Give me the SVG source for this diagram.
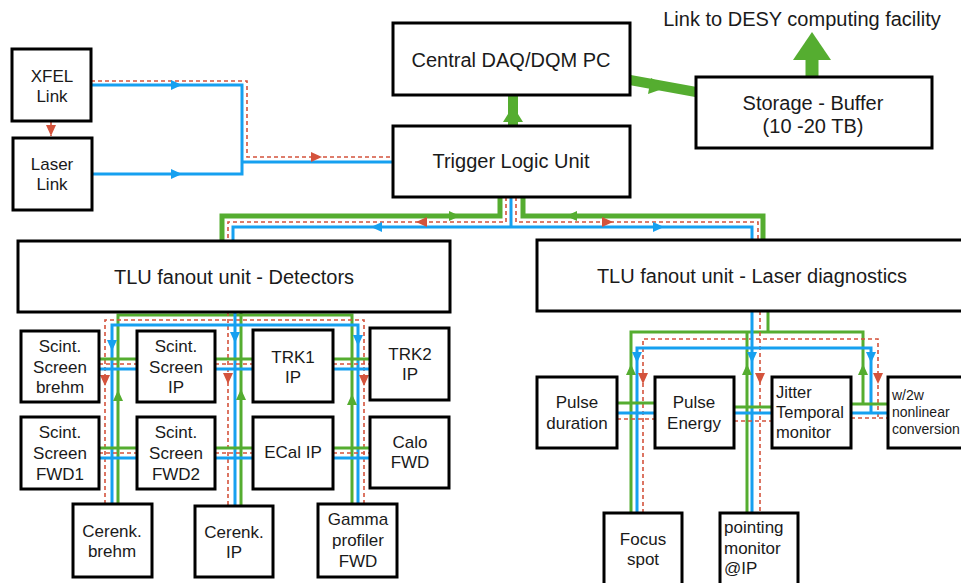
<svg xmlns="http://www.w3.org/2000/svg" xmlns:xlink="http://www.w3.org/1999/xlink" width="961" height="583" viewBox="0 0 961 583">
<style>
.box{fill:#fff;stroke:#000;stroke-width:3}
.t{font-family:"Liberation Sans",Arial,sans-serif;font-size:17px;fill:#1a1a1a;text-anchor:middle}
.big{font-size:20px}
.l{text-anchor:start}
.bl{fill:none;stroke:#16a0f0;stroke-width:3}
.gr{fill:none;stroke:#55ad30;stroke-width:3}
.grT{fill:none;stroke:#55ad30;stroke-width:5}
.rd{fill:none;stroke:#d4533c;stroke-width:1.6;stroke-dasharray:4 3}
.fb{fill:#16a0f0}.fg{fill:#55ad30}.fr{fill:#d4533c}
</style>
<defs>
<path id="tri" d="M6,0 L-5,-5 L-5,5 Z"/>
</defs>
<rect width="961" height="583" fill="#fff"/>
<g id="connectors">
  <path class="bl" d="M91,85 H242 V174 H92 M242,162 H393"/>
  <path class="rd" d="M91,81 H247 V157 H393"/>
  <path class="rd" d="M51,121 V136"/>
  <use xlink:href="#tri" class="fr" transform="translate(51,130) rotate(90)"/>
  <use xlink:href="#tri" class="fb" transform="translate(176,85)"/>
  <use xlink:href="#tri" class="fb" transform="translate(176,174)"/>
  <use xlink:href="#tri" class="fr" transform="translate(316,157)"/>
  <path d="M513,126 V95" stroke="#55ad30" stroke-width="10" fill="none"/>
  <path d="M513,106 L523,122 L503,122 Z" class="fg"/>
  <path d="M630,80 L696,92" stroke="#55ad30" stroke-width="10" fill="none"/>
  <path d="M668,87 L648,94 L651,78 Z" class="fg"/>
  <path d="M812,77 V58" stroke="#55ad30" stroke-width="13" fill="none"/>
  <path d="M812,32 L831,60 L793,60 Z" class="fg"/>
  <path class="grT" d="M500,197 V216 H222 V241"/>
  <path class="grT" d="M523,197 V216 H763 V240"/>
  <path class="rd" d="M506,197 V222 H228 V241"/>
  <path class="rd" d="M516,197 V222 H758 V240"/>
  <path class="bl" d="M511,197 V227 H233 V241 M511,227 H752 V240"/>
  <use xlink:href="#tri" class="fg" transform="translate(454,216)"/>
  <use xlink:href="#tri" class="fr" transform="translate(422,222) rotate(180)"/>
  <use xlink:href="#tri" class="fb" transform="translate(377,227) rotate(180)"/>
  <use xlink:href="#tri" class="fg" transform="translate(572,216) rotate(180)"/>
  <use xlink:href="#tri" class="fr" transform="translate(607,222)"/>
  <use xlink:href="#tri" class="fb" transform="translate(658,227)"/>
  <path class="gr" d="M118,504 V315 H352 V504 M241,312 V506"/>
  <path class="rd" d="M105,504 V320 H364 V504 M228,312 V506"/>
  <path class="bl" d="M112,504 V325 H358 V504 M235,312 V506"/>
  <path class="gr" d="M99,359 H137 M215,359 H253 M333,359 H370 M99,448 H137 M215,448 H253 M333,448 H370"/>
  <path class="rd" d="M99,364 H137 M215,364 H253 M333,364 H370 M99,453 H137 M215,453 H253 M333,453 H370"/>
  <path class="bl" d="M99,369 H137 M215,369 H253 M333,369 H370 M99,458 H137 M215,458 H253 M333,458 H370"/>
  <use xlink:href="#tri" class="fb" transform="translate(112,345) rotate(90)"/>
  <use xlink:href="#tri" class="fr" transform="translate(105,380) rotate(90)"/>
  <use xlink:href="#tri" class="fg" transform="translate(118,396) rotate(-90)"/>
  <use xlink:href="#tri" class="fb" transform="translate(235,337) rotate(90)"/>
  <use xlink:href="#tri" class="fr" transform="translate(228,378) rotate(90)"/>
  <use xlink:href="#tri" class="fg" transform="translate(241,395) rotate(-90)"/>
  <use xlink:href="#tri" class="fb" transform="translate(358,340) rotate(90)"/>
  <use xlink:href="#tri" class="fr" transform="translate(364,380) rotate(90)"/>
  <use xlink:href="#tri" class="fg" transform="translate(352,400) rotate(-90)"/>
  <path class="gr" d="M768,311 V332 M631,513 V332 H863 V404 M747,332 V513"/>
  <path class="rd" d="M643,513 V339 H878 V418 M760,311 V513"/>
  <path class="bl" d="M637,513 V348 H871 V413 M752,311 V513"/>
  <path class="gr" d="M617,403 H655 M734,407 H772 M851,404 H888"/>
  <path class="bl" d="M617,413 H655 M734,413 H772 M851,413 H888"/>
  <path class="rd" d="M617,419 H655 M734,421 H772 M851,418 H888"/>
  <use xlink:href="#tri" class="fb" transform="translate(637,357) rotate(90)"/>
  <use xlink:href="#tri" class="fb" transform="translate(752,357) rotate(90)"/>
  <use xlink:href="#tri" class="fb" transform="translate(871,357) rotate(90)"/>
  <use xlink:href="#tri" class="fg" transform="translate(631,370) rotate(-90)"/>
  <use xlink:href="#tri" class="fg" transform="translate(747,370) rotate(-90)"/>
  <use xlink:href="#tri" class="fg" transform="translate(863,370) rotate(-90)"/>
  <use xlink:href="#tri" class="fr" transform="translate(643,378) rotate(90)"/>
  <use xlink:href="#tri" class="fr" transform="translate(760,378) rotate(90)"/>
  <use xlink:href="#tri" class="fr" transform="translate(878,378) rotate(90)"/>
</g>
<text class="t big" x="802" y="26">Link to DESY computing facility</text>
<g id="xfel"><rect class="box" x="12" y="49" width="79" height="72"/><text class="t" x="52" y="82">XFEL</text><text class="t" x="52" y="102">Link</text></g>
<g id="laser"><rect class="box" x="13" y="138" width="79" height="72"/><text class="t" x="52" y="170">Laser</text><text class="t" x="52" y="190">Link</text></g>
<g id="daq"><rect class="box" x="393" y="23" width="237" height="72"/><text class="t big" x="511" y="67">Central DAQ/DQM PC</text></g>
<g id="tlu"><rect class="box" x="393" y="126" width="237" height="71"/><text class="t big" x="511" y="168">Trigger Logic Unit</text></g>
<g id="storage"><rect class="box" x="696" y="77" width="236" height="71"/><text class="t big" x="813" y="110">Storage - Buffer</text><text class="t big" x="813" y="133">(10 -20 TB)</text></g>
<g id="fanout-det"><rect class="box" x="18" y="241" width="432" height="71"/><text class="t big" x="234" y="284">TLU fanout unit - Detectors</text></g>
<g id="fanout-las"><rect class="box" x="537" y="240" width="430" height="71"/><text class="t big" x="752" y="283">TLU fanout unit - Laser diagnostics</text></g>
<g id="scint-brehm"><rect class="box" x="21" y="331" width="78" height="71"/><text class="t" x="60" y="352">Scint.</text><text class="t" x="60" y="373">Screen</text><text class="t" x="60" y="393">brehm</text></g>
<g id="scint-ip"><rect class="box" x="137" y="331" width="78" height="71"/><text class="t" x="176" y="352">Scint.</text><text class="t" x="176" y="373">Screen</text><text class="t" x="176" y="393">IP</text></g>
<g id="trk1"><rect class="box" x="253" y="330" width="80" height="72"/><text class="t" x="293" y="363">TRK1</text><text class="t" x="293" y="383">IP</text></g>
<g id="trk2"><rect class="box" x="370" y="328" width="79" height="72"/><text class="t" x="410" y="360">TRK2</text><text class="t" x="410" y="380">IP</text></g>
<g id="scint-fwd1"><rect class="box" x="21" y="417" width="78" height="72"/><text class="t" x="60" y="438">Scint.</text><text class="t" x="60" y="459">Screen</text><text class="t" x="60" y="480">FWD1</text></g>
<g id="scint-fwd2"><rect class="box" x="137" y="417" width="78" height="72"/><text class="t" x="176" y="438">Scint.</text><text class="t" x="176" y="459">Screen</text><text class="t" x="176" y="480">FWD2</text></g>
<g id="ecal"><rect class="box" x="253" y="417" width="80" height="72"/><text class="t" x="293" y="458">ECal IP</text></g>
<g id="calo"><rect class="box" x="370" y="417" width="79" height="71"/><text class="t" x="410" y="448">Calo</text><text class="t" x="410" y="468">FWD</text></g>
<g id="cerenk-brehm"><rect class="box" x="73" y="504" width="79" height="73"/><text class="t" x="112" y="537">Cerenk.</text><text class="t" x="112" y="557">brehm</text></g>
<g id="cerenk-ip"><rect class="box" x="195" y="506" width="78" height="71"/><text class="t" x="234" y="538">Cerenk.</text><text class="t" x="234" y="558">IP</text></g>
<g id="gamma"><rect class="box" x="318" y="504" width="79" height="73"/><text class="t" x="358" y="525">Gamma</text><text class="t" x="358" y="546">profiler</text><text class="t" x="358" y="567">FWD</text></g>
<g id="pulse-duration"><rect class="box" x="537" y="377" width="80" height="71"/><text class="t" x="577" y="408">Pulse</text><text class="t" x="577" y="429">duration</text></g>
<g id="pulse-energy"><rect class="box" x="655" y="377" width="79" height="71"/><text class="t" x="694" y="408">Pulse</text><text class="t" x="694" y="429">Energy</text></g>
<g id="jitter"><rect class="box" x="772" y="377" width="79" height="71"/><text class="t l" x="776" y="398" style="font-size:16.5px">Jitter</text><text class="t l" x="776" y="418" style="font-size:16.5px">Temporal</text><text class="t l" x="776" y="438" style="font-size:16.5px">monitor</text></g>
<g id="w2w"><rect class="box" x="888" y="377" width="80" height="71"/><text class="t l" x="892" y="400" style="font-size:14px">w/2w</text><text class="t l" x="892" y="417" style="font-size:14px">nonlinear</text><text class="t l" x="892" y="434" style="font-size:14px">conversion</text></g>
<g id="focus"><rect class="box" x="604" y="513" width="78" height="77"/><text class="t" x="643" y="545">Focus</text><text class="t" x="643" y="565">spot</text></g>
<g id="pointing"><rect class="box" x="720" y="513" width="78" height="77"/><text class="t l" x="724" y="533">pointing</text><text class="t l" x="724" y="554">monitor</text><text class="t l" x="724" y="574">@IP</text></g>
</svg>
